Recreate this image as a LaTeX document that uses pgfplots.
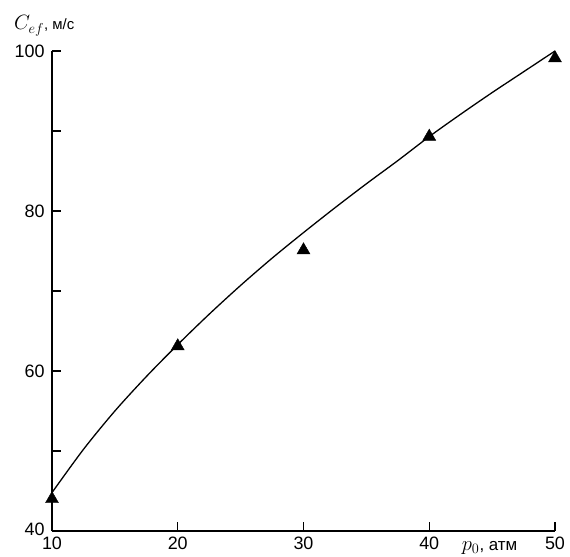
\documentclass[border=0pt]{standalone}
\usepackage{pgfplots}
\pgfplotsset{compat=1.18}
\usepackage{fontspec}
\setmainfont{Liberation Sans}
\begin{document}
\begin{tikzpicture}
\begin{axis}[
  scale only axis,
  width=503bp, height=480bp,
  xmin=10, xmax=50, ymin=40, ymax=100,
  axis x line=bottom, axis y line=left,
  axis line style={line width=1.6bp, -},
  xtick={10,20,30,40,50},
  ytick={40,50,60,70,80,90,100},
  yticklabels={\raisebox{4bp}{40},,60,,80,,100},
  tick align=inside,
  major tick length=9bp,
  tick style={line width=1.4bp, black},
  /pgf/number format/assume math mode=true,
  tick label style={font=\fontsize{18}{18}\selectfont},
  xticklabel style={yshift=-2bp},
  yticklabel style={xshift=-4bp},
  clip=false,
]
\addplot[smooth, line width=1.3bp, black] coordinates {
(10,44.8) (12.5,50.2) (15,55.0) (17.5,59.3) (20,63.3) (22.5,67.1) (25,70.7)
(27.5,74.1) (30,77.3) (32.5,80.4) (35,83.4) (37.5,86.3) (40,89.3) (42.5,92.1)
(45,94.8) (47.5,97.4) (50,100.0)};
\addplot[only marks, mark=triangle*, mark size=7.5bp, black] coordinates {
(10,44.0) (20,63.1) (30,75.1) (40,89.3) (50,99.1)};
\node[anchor=base west, inner sep=0pt] at (rel axis cs:0,1) [xshift=-38bp, yshift=21bp] {\fontsize{21}{21}\selectfont$C_{ef}$\fontsize{15}{15}\selectfont,\ м/с};
\node[anchor=base, inner sep=0pt] at (axis cs:44.8,40) [yshift=-19.5bp] {\fontsize{22}{22}\selectfont$p_0$\fontsize{17}{17}\selectfont,\ атм};
\end{axis}
\pgfresetboundingbox
\path (current axis.south west) ++(-52bp,-26bp) rectangle ++(570bp,557bp);
\end{tikzpicture}
\end{document}
